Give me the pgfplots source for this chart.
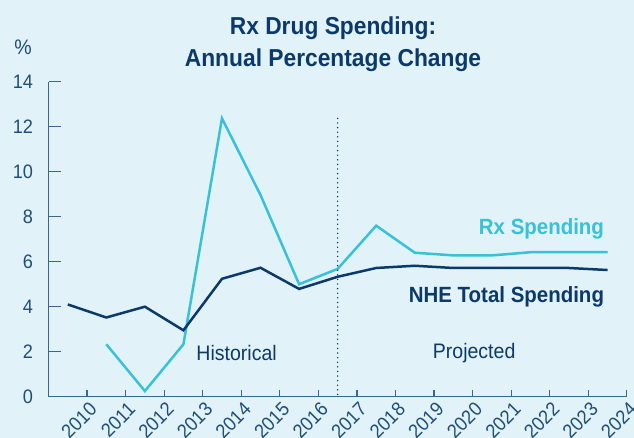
\documentclass[border=0pt]{standalone}
\usepackage{pgfplots}
\pgfplotsset{compat=1.18}
\usepackage{fontspec}
\setmainfont{Liberation Sans}[FakeStretch=0.93]
\definecolor{bg}{HTML}{E1F2F8}
\definecolor{navy}{HTML}{0B3A6A}
\definecolor{cyanl}{HTML}{38C1D9}
\definecolor{axcol}{HTML}{3B6690}
\definecolor{lab}{HTML}{1F4E79}
\begin{document}
\begin{tikzpicture}
\useasboundingbox (0,0) rectangle (634pt,438pt);
\fill[bg] (0,0) rectangle (634pt,438pt);
\node[anchor=base, font=\fontsize{24.5}{28}\selectfont\bfseries, text=navy] at (333pt,403.7pt) {Rx Drug Spending:};
\node[anchor=base, font=\fontsize{24.5}{28}\selectfont\bfseries, text=navy] at (333pt,371.3pt) {Annual Percentage Change};
\node[anchor=base, font=\fontsize{21}{24}\selectfont, text=lab] at (23pt,383pt) {\%};
\begin{axis}[
  at={(48.5pt,41.3pt)}, anchor=south west,
  scale only axis, width=578.3pt, height=315pt,
  xmin=-0.5, xmax=14.5, ymin=0, ymax=14,
  axis lines=left, axis line style={-, line width=1.6pt, draw=axcol},
  clip=false,
  xtick={0.5,1.5,...,14.5},
  xticklabels={2010,2011,2012,2013,2014,2015,2016,2017,2018,2019,2020,2021,2022,2023,2024},
  ytick={0,2,...,14},
  major tick length=7pt,
  tick style={line width=1.2pt, draw=axcol},
  y tick style={/pgfplots/major tick length=13pt},
  tick align=inside,
  /pgf/number format/assume math mode=true,
  ticklabel style={font=\fontsize{19.5}{22}\selectfont, text=lab},
  xticklabel style={rotate=45, anchor=east, yshift=-11pt, xshift=-1pt, inner sep=1pt},
  yticklabel style={xshift=-12pt},
]
\addplot[cyanl, line width=2.5pt] coordinates {(1,2.33)(2,0.25)(3,2.33)(4,12.37)(5,8.96)(6,5.0)(7,5.68)(8,7.6)(9,6.4)(10,6.28)(11,6.28)(12,6.42)(13,6.42)(14,6.42)};
\addplot[navy, line width=2.5pt] coordinates {(0,4.1)(1,3.52)(2,4.0)(3,2.95)(4,5.24)(5,5.73)(6,4.79)(7,5.33)(8,5.72)(9,5.82)(10,5.72)(11,5.72)(12,5.72)(13,5.72)(14,5.63)};
\addplot[navy, line width=1.6pt, line cap=round, dash pattern=on 0pt off 4.6pt] coordinates {(7,0.1)(7,12.55)};
\node[anchor=base east, font=\fontsize{22}{24}\selectfont\bfseries, text=cyanl] at (axis cs:14,7.19) {Rx Spending};
\node[anchor=base east, font=\fontsize{22}{24}\selectfont\bfseries, text=navy] at (axis cs:14,4.2) {NHE Total Spending};
\node[anchor=base, font=\fontsize{21}{24}\selectfont, text=navy] at (axis cs:4.38,1.63) {Historical};
\node[anchor=base, font=\fontsize{21}{24}\selectfont, text=navy] at (axis cs:10.54,1.68) {Projected};
\end{axis}
\end{tikzpicture}
\end{document}
